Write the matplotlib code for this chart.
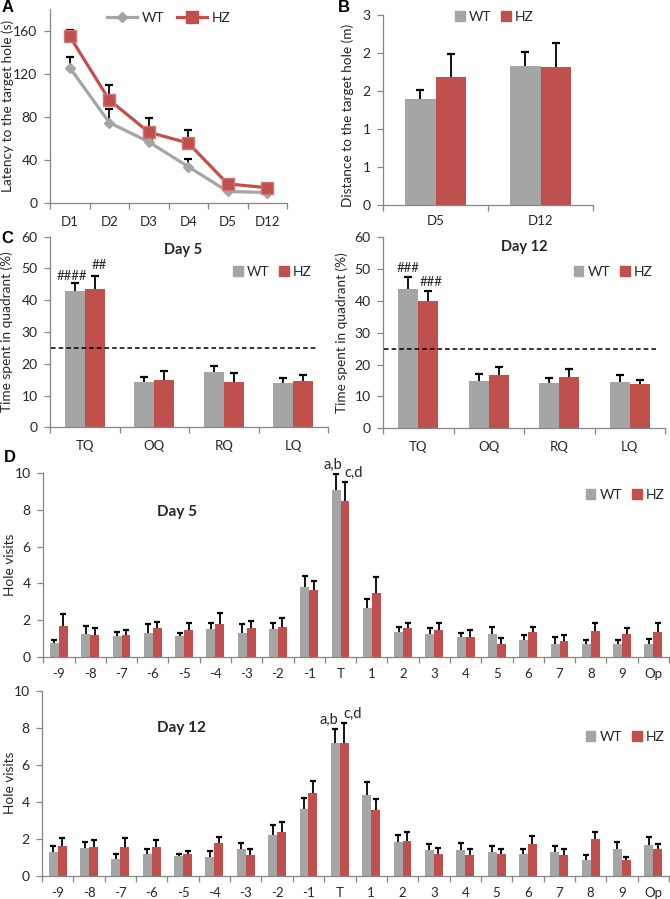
import numpy as np
import matplotlib
matplotlib.use('Agg')
import matplotlib.pyplot as plt
from matplotlib.patches import Patch
from matplotlib.lines import Line2D
from matplotlib.ticker import MultipleLocator, FuncFormatter

plt.rcParams['font.family'] = ['Lato', 'DejaVu Sans']

# ---- data ----
days = ['D1', 'D2', 'D3', 'D4', 'D5', 'D12']
lat_wt = [126, 75, 57, 34, 11, 10]
lat_wt_err = [9.5, 13, 3, 7, 1.5, 1.5]
lat_hz = [155, 96, 66, 56, 18, 14.5]
lat_hz_err = [6, 14, 13, 12, 3.5, 2]

probe_days = ['D5', 'D12']
dist_wt = [1.68, 2.19]
dist_wt_err = [0.13, 0.22]
dist_hz = [2.02, 2.18]
dist_hz_err = [0.36, 0.38]

quadrants = ['TQ', 'OQ', 'RQ', 'LQ']
quad_d5_wt = [43.0, 14.3, 17.3, 14.0]
quad_d5_wt_err = [2.3, 1.4, 2.1, 1.6]
quad_d5_hz = [43.6, 14.9, 14.2, 14.5]
quad_d5_hz_err = [4.0, 2.9, 2.8, 2.1]
quad_d12_wt = [43.8, 15.0, 14.2, 14.6]
quad_d12_wt_err = [3.8, 2.1, 1.6, 2.3]
quad_d12_hz = [40.1, 16.8, 16.1, 14.0]
quad_d12_hz_err = [3.1, 2.4, 2.5, 1.3]
chance = 25
marks_d5 = ['####', '##']
marks_d12 = ['###', '###']

holes = ['-9', '-8', '-7', '-6', '-5', '-4', '-3', '-2', '-1', 'T',
         '1', '2', '3', '4', '5', '6', '7', '8', '9', 'Op']
hv_d5_wt = [0.75, 1.26, 1.17, 1.33, 1.17, 1.51, 1.33, 1.51, 3.80, 9.08,
            2.68, 1.35, 1.24, 1.10, 1.24, 0.94, 0.74, 0.72, 0.74, 0.74]
hv_d5_wt_err = [0.19, 0.45, 0.22, 0.45, 0.16, 0.36, 0.45, 0.33, 0.60, 0.87,
                0.49, 0.31, 0.36, 0.23, 0.42, 0.25, 0.34, 0.20, 0.18, 0.23]
hv_d5_hz = [1.69, 1.21, 1.21, 1.57, 1.48, 1.80, 1.57, 1.66, 3.64, 8.45,
            3.50, 1.57, 1.49, 1.10, 0.74, 1.35, 0.88, 1.44, 1.24, 1.37]
hv_d5_hz_err = [0.63, 0.36, 0.27, 0.36, 0.36, 0.58, 0.39, 0.48, 0.50, 1.05,
                0.86, 0.30, 0.35, 0.38, 0.32, 0.31, 0.31, 0.41, 0.34, 0.48]
hv_d12_wt = [1.28, 1.51, 0.90, 1.15, 1.08, 0.99, 1.44, 2.20, 3.60, 7.19,
             4.34, 1.82, 1.39, 1.39, 1.28, 1.15, 1.28, 0.85, 1.46, 1.68]
hv_d12_wt_err = [0.34, 0.33, 0.27, 0.28, 0.11, 0.35, 0.35, 0.54, 0.58, 0.76,
                 0.74, 0.36, 0.34, 0.40, 0.34, 0.28, 0.34, 0.25, 0.38, 0.43]
hv_d12_hz = [1.62, 1.55, 1.55, 1.53, 1.17, 1.79, 1.12, 2.34, 4.47, 7.19,
             3.55, 1.86, 1.17, 1.12, 1.17, 1.70, 1.12, 2.00, 0.83, 1.42]
hv_d12_hz_err = [0.40, 0.36, 0.50, 0.40, 0.18, 0.28, 0.34, 0.56, 0.67, 1.04,
                 0.59, 0.50, 0.33, 0.30, 0.29, 0.44, 0.34, 0.38, 0.20, 0.31]
marks_target = ['a,b', 'c,d']

# ---- style ----
W, H = 670, 899
GRAY = '#A5A5A5'
RED = '#C0504D'
AXC = '#868686'
TXT = '#262626'
BW = 0.286

fig = plt.figure(figsize=(W / 100, H / 100), dpi=100)


def px_axes(l, t, r, b):
    ax = fig.add_axes([l / W, 1 - b / H, (r - l) / W, (b - t) / H])
    ax._px = (l, r)
    return ax


def excel_style(ax, cats, ylim, ystep, ylabel, lab_x, xpad=8):
    n = len(cats)
    l, r = ax._px
    ax.set_xlim(-0.5, n - 0.5)
    ax.set_ylim(*ylim)
    for s in ['top', 'right']:
        ax.spines[s].set_visible(False)
    for s in ['left', 'bottom']:
        ax.spines[s].set_color(AXC)
        ax.spines[s].set_linewidth(0.9)
    ax.set_xticks(np.arange(n), cats)
    ax.set_xticks(np.arange(n + 1) - 0.5, minor=True)
    ax.tick_params(axis='x', which='major', length=0, pad=xpad, labelsize=9.5, labelcolor=TXT)
    ax.tick_params(axis='x', which='minor', length=4, color=AXC, width=0.9)
    ax.yaxis.set_major_locator(MultipleLocator(ystep))
    ax.tick_params(axis='y', length=4, color=AXC, width=0.9, pad=5, labelsize=10, labelcolor=TXT)
    ax.set_ylabel(ylabel, fontsize=9.8, color=TXT)
    ax.yaxis.set_label_coords((lab_x - l) / (r - l), 0.5)


def up_err(ax, x, y, e, cap=6):
    y = np.asarray(y)
    top = y + np.asarray(e)
    ax.vlines(x, y, top, color='black', lw=1.3, zorder=2)
    ax.plot(x, top, ls='none', marker='_', ms=cap, mew=1.6, color='black', zorder=2)


def pair_bars(ax, wt, wt_e, hz, hz_e, cap=6):
    x = np.arange(len(wt))
    ax.bar(x - BW / 2, wt, BW, color=GRAY, zorder=2)
    ax.bar(x + BW / 2, hz, BW, color=RED, zorder=2)
    up_err(ax, x - BW / 2, wt, wt_e, cap)
    up_err(ax, x + BW / 2, hz, hz_e, cap)
    return x


def bar_legend(ax, cx, cy):
    h = [Patch(color=GRAY), Patch(color=RED)]
    ax.legend(h, ['WT', 'HZ'], loc='center', bbox_to_anchor=(cx, cy), ncol=2,
              frameon=False, handlelength=0.7, handleheight=0.7, handletextpad=0.3,
              columnspacing=0.7, fontsize=10, labelcolor=TXT, borderpad=0.2)


def marks(ax, x, tops, labels, dy=(1.5, 1.5), dx=(0, 0), size=9.5):
    for xi, t, lab, a, b in zip(x, tops, labels, dx, dy):
        ax.annotate(lab, (xi, t), xytext=(a, b), textcoords='offset points',
                    ha='center', va='bottom', fontsize=size, color=TXT,
                    annotation_clip=False)


# ---- A ----
axA = px_axes(50, 9.4, 287, 203.3)
excel_style(axA, days, (0, 180), 40, 'Latency to the target hole (s)', 14, xpad=9)
xa = np.arange(len(days))
up_err(axA, xa, lat_wt, lat_wt_err)
up_err(axA, xa, lat_hz, lat_hz_err)
axA.plot(xa, lat_wt, color=GRAY, lw=2.3, marker='D', ms=5.5, zorder=3)
axA.plot(xa, lat_hz, color=RED, lw=2.3, marker='s', ms=9, mec='#D07573', mew=1, zorder=3)
hA = [Line2D([], [], color=GRAY, lw=2.3, marker='D', ms=5.5),
      Line2D([], [], color=RED, lw=2.3, marker='s', ms=8)]
axA.legend(hA, ['WT', 'HZ'], loc='center', bbox_to_anchor=(0.5, 0.955), ncol=2,
           frameon=False, handlelength=2.2, handletextpad=0.3, columnspacing=0.9,
           fontsize=10, labelcolor=TXT)

# ---- B ----
axB = px_axes(383, 15, 593, 205)
excel_style(axB, probe_days, (0, 3), 0.6, 'Distance to the target hole (m)', 354, xpad=7)
axB.yaxis.set_major_formatter(FuncFormatter(lambda v, p: f'{v:.0f}'))
axB.yaxis.set_label_coords((354 - 383) / 210, 0.47)
pair_bars(axB, dist_wt, dist_wt_err, dist_hz, dist_hz_err, cap=6)
bar_legend(axB, 0.53, 0.99)

# ---- C ----
axC1 = px_axes(50, 236.7, 328, 427.3)
excel_style(axC1, quadrants, (0, 60), 10, 'Time spent in quadrant (%)', 13, xpad=9)
xc = pair_bars(axC1, quad_d5_wt, quad_d5_wt_err, quad_d5_hz, quad_d5_hz_err)
axC1.axhline(chance, xmin=0.005, xmax=0.96, color='black', ls=(0, (3, 2)), lw=1.1, zorder=3)
marks(axC1, [xc[0] - BW / 2, xc[0] + BW / 2],
      [quad_d5_wt[0] + quad_d5_wt_err[0], quad_d5_hz[0] + quad_d5_hz_err[0]], marks_d5,
      dy=(1, 4), dx=(-2, 3))
axC1.text(0.48, 0.93, 'Day 5', transform=axC1.transAxes, ha='center', va='center',
          fontsize=10.5, fontweight='bold', color=TXT)
bar_legend(axC1, 0.80, 0.815)

axC2 = px_axes(383, 237.3, 665, 428.3)
excel_style(axC2, quadrants, (0, 60), 10, 'Time spent in quadrant (%)', 348, xpad=9)
xc = pair_bars(axC2, quad_d12_wt, quad_d12_wt_err, quad_d12_hz, quad_d12_hz_err)
axC2.axhline(chance, xmin=0.005, xmax=0.97, color='black', ls=(0, (3, 2)), lw=1.1, zorder=3)
marks(axC2, [xc[0] - BW / 2, xc[0] + BW / 2],
      [quad_d12_wt[0] + quad_d12_wt_err[0], quad_d12_hz[0] + quad_d12_hz_err[0]], marks_d12,
      dy=(2, 2), dx=(0, 2))
axC2.text(0.50, 0.95, 'Day 12', transform=axC2.transAxes, ha='center', va='center',
          fontsize=10.5, fontweight='bold', color=TXT)
bar_legend(axC2, 0.816, 0.818)

# ---- D ----
axD1 = px_axes(43.3, 472.7, 669, 657.3)
excel_style(axD1, holes, (0, 10), 2, 'Hole visits', 16, xpad=8)
xd = pair_bars(axD1, hv_d5_wt, hv_d5_wt_err, hv_d5_hz, hv_d5_hz_err, cap=5)
ti = holes.index('T')
marks(axD1, [xd[ti] - BW / 2, xd[ti] + BW / 2],
      [hv_d5_wt[ti] + hv_d5_wt_err[ti], hv_d5_hz[ti] + hv_d5_hz_err[ti]], marks_target,
      dx=(-2, 6), size=10.5)
axD1.text(0.214, 0.787, 'Day 5', transform=axD1.transAxes, ha='center', va='center',
          fontsize=11, fontweight='bold', color=TXT)
bar_legend(axD1, 0.93, 0.88)

axD2 = px_axes(42, 690.7, 669, 875.7)
excel_style(axD2, holes, (0, 10), 2, 'Hole visits', 16, xpad=8)
xd = pair_bars(axD2, hv_d12_wt, hv_d12_wt_err, hv_d12_hz, hv_d12_hz_err, cap=5)
marks(axD2, [xd[ti] - BW / 2, xd[ti] + BW / 2],
      [hv_d12_wt[ti] + hv_d12_wt_err[ti], hv_d12_hz[ti] + hv_d12_hz_err[ti]], marks_target,
      dx=(-5, 6), size=10.5)
axD2.text(0.223, 0.80, 'Day 12', transform=axD2.transAxes, ha='center', va='center',
          fontsize=11, fontweight='bold', color=TXT)
bar_legend(axD2, 0.93, 0.75)

# panel letters
for lab, px, py in [('A', 8, 8), ('B', 344, 8), ('C', 7, 238), ('D', 10, 457)]:
    fig.text(px / W, 1 - py / H, lab, ha='center', va='center', fontsize=12,
             fontweight='bold', family='Liberation Sans', color='black')

fig.savefig('out.png', dpi=100)
